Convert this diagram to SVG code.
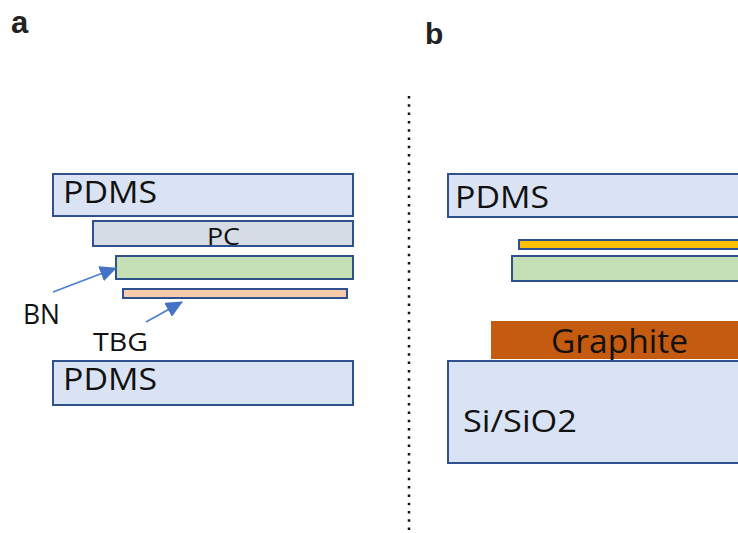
<svg xmlns="http://www.w3.org/2000/svg" width="738" height="533" viewBox="0 0 738 533">
<defs>
<style>
.lbl{font-family:"Open Sans","DejaVu Sans",sans-serif;fill:#111}
.pl{font-family:"Liberation Sans",Arial,sans-serif;font-weight:bold;fill:#222}
.blk{stroke:#2F528F;stroke-width:2}
.pdms{fill:#DAE3F3}
.pc{fill:#D6DCE5}
.bn{fill:#C5E0B4}
.tbg{fill:#F8CBAD}
.gold{fill:#FFC000}
.arr{stroke:#4F81D0;stroke-width:1.8;fill:none}
</style>
<marker id="ah" viewBox="0 0 17 16" refX="16" refY="8" markerWidth="17" markerHeight="16" orient="auto" markerUnits="userSpaceOnUse">
<path d="M0,0 L17,8 L0,16 z" fill="#4472C4"/>
</marker>
</defs>
<rect width="738" height="533" fill="#fff"/>
<text class="pl" x="11" y="33" font-size="31">a</text>
<text class="pl" x="425" y="44" font-size="30">b</text>
<line x1="409" y1="96" x2="409" y2="533" stroke="#111" stroke-width="2.5" stroke-dasharray="2.5 5.8"/>
<g id="a-pdms-top"><rect class="blk pdms" x="53" y="174" width="300" height="42"/><text class="lbl" x="63" y="203" font-size="31" textLength="94" lengthAdjust="spacingAndGlyphs">PDMS</text></g>
<g id="a-pc"><rect class="blk pc" x="93" y="221" width="260" height="25"/><text class="lbl" x="207" y="245" font-size="24" textLength="33" lengthAdjust="spacingAndGlyphs">PC</text></g>
<g id="a-bn"><rect class="blk bn" x="116" y="256" width="237" height="23"/></g>
<g id="a-tbg"><rect class="blk tbg" x="123" y="289" width="224" height="9"/></g>
<g id="a-pdms-bottom"><rect class="blk pdms" x="53" y="361" width="300" height="44"/><text class="lbl" x="63" y="390" font-size="31" textLength="94" lengthAdjust="spacingAndGlyphs">PDMS</text></g>
<g id="a-bn-label"><text class="lbl" x="23" y="324" font-size="27" textLength="37" lengthAdjust="spacingAndGlyphs">BN</text></g>
<g id="a-tbg-label"><text class="lbl" x="93" y="351" font-size="26" textLength="55" lengthAdjust="spacingAndGlyphs">TBG</text></g>
<g id="connectors">
<line class="arr" x1="53" y1="292" x2="116" y2="268" marker-end="url(#ah)"/>
<line class="arr" x1="146" y1="322" x2="182" y2="302" marker-end="url(#ah)"/>
</g>
<g id="b-pdms"><rect class="blk pdms" x="448" y="174" width="300" height="43"/><text class="lbl" x="455" y="208" font-size="31" textLength="94" lengthAdjust="spacingAndGlyphs">PDMS</text></g>
<g id="b-gold"><rect class="blk gold" x="519" y="240" width="230" height="9"/></g>
<g id="b-bn"><rect class="blk bn" x="512" y="256" width="240" height="25"/></g>
<g id="b-graphite"><rect x="491" y="321" width="260" height="38" fill="#C55A11"/><text class="lbl" x="551" y="353" font-size="32" textLength="137" lengthAdjust="spacingAndGlyphs">Graphite</text></g>
<g id="b-sio2"><rect class="blk pdms" x="448" y="361" width="300" height="102"/><text class="lbl" x="463" y="432" font-size="31" textLength="114" lengthAdjust="spacingAndGlyphs">Si/SiO2</text></g>
</svg>
